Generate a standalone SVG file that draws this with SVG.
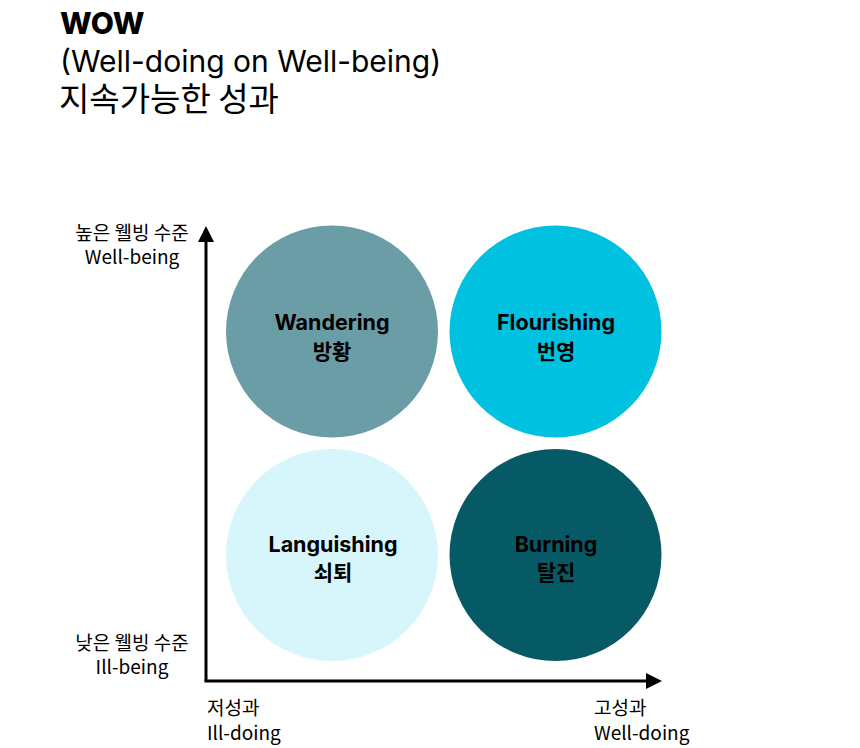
<svg xmlns="http://www.w3.org/2000/svg" width="860" height="748" viewBox="0 0 860 748">
<style>
.title{font-family:Inter,"Noto Sans CJK KR",sans-serif;font-size:30px;fill:#000;}
.titleKo{font-family:"Noto Sans CJK KR",sans-serif;font-size:33px;fill:#000;}
.lbl{font-family:Inter,"Noto Sans CJK KR",sans-serif;font-size:21.5px;font-weight:700;fill:#000;text-anchor:middle;}
.ko{font-family:"Noto Sans CJK KR",sans-serif;font-size:21px;font-weight:700;fill:#000;text-anchor:middle;}
.ax{font-family:"Noto Sans CJK KR",sans-serif;font-size:19px;fill:#000;}
.axis{stroke:#000;stroke-width:3;fill:none;}
</style>
<defs>
<marker id="arr" viewBox="0 0 16 16" refX="0" refY="8" markerWidth="16" markerHeight="16" markerUnits="userSpaceOnUse" orient="auto">
<path d="M0,0 L16,8 L0,16 Z" fill="#000"/>
</marker>
</defs>
<g id="title">
<text class="title" x="60" y="34" font-weight="800">WOW</text>
<text class="title" x="60" y="72">(Well-doing on Well-being)</text>
<text class="titleKo" x="59" y="111">지속가능한 성과</text>
</g>
<g id="connectors">
<line class="axis" x1="206" y1="681" x2="206" y2="242" marker-end="url(#arr)"/>
<line class="axis" x1="204.5" y1="681" x2="646" y2="681" marker-end="url(#arr)"/>
</g>
<g id="wandering">
<circle cx="332" cy="331.5" r="106" fill="#6A9DA6"/>
<text class="lbl" x="332" y="330">Wandering</text>
<text class="ko" x="332" y="359">방황</text>
</g>
<g id="flourishing">
<circle cx="555.5" cy="331.5" r="106" fill="#00C1E0"/>
<text class="lbl" x="556" y="330">Flourishing</text>
<text class="ko" x="556" y="359">번영</text>
</g>
<g id="languishing">
<circle cx="332" cy="555" r="106" fill="#D6F6FC"/>
<text class="lbl" x="333" y="552">Languishing</text>
<text class="ko" x="333" y="580">쇠퇴</text>
</g>
<g id="burning">
<circle cx="555.5" cy="555" r="106" fill="#065A66"/>
<text class="lbl" x="556" y="552">Burning</text>
<text class="ko" x="556" y="580">탈진</text>
</g>
<g id="axis-labels">
<text class="ax" x="132" y="240" text-anchor="middle">높은 웰빙 수준</text>
<text class="ax" x="132" y="264" text-anchor="middle">Well-being</text>
<text class="ax" x="132" y="650" text-anchor="middle">낮은 웰빙 수준</text>
<text class="ax" x="132" y="674" text-anchor="middle">Ill-being</text>
<text class="ax" x="207" y="715">저성과</text>
<text class="ax" x="207" y="740">Ill-doing</text>
<text class="ax" x="594" y="715">고성과</text>
<text class="ax" x="594" y="740">Well-doing</text>
</g>
</svg>
